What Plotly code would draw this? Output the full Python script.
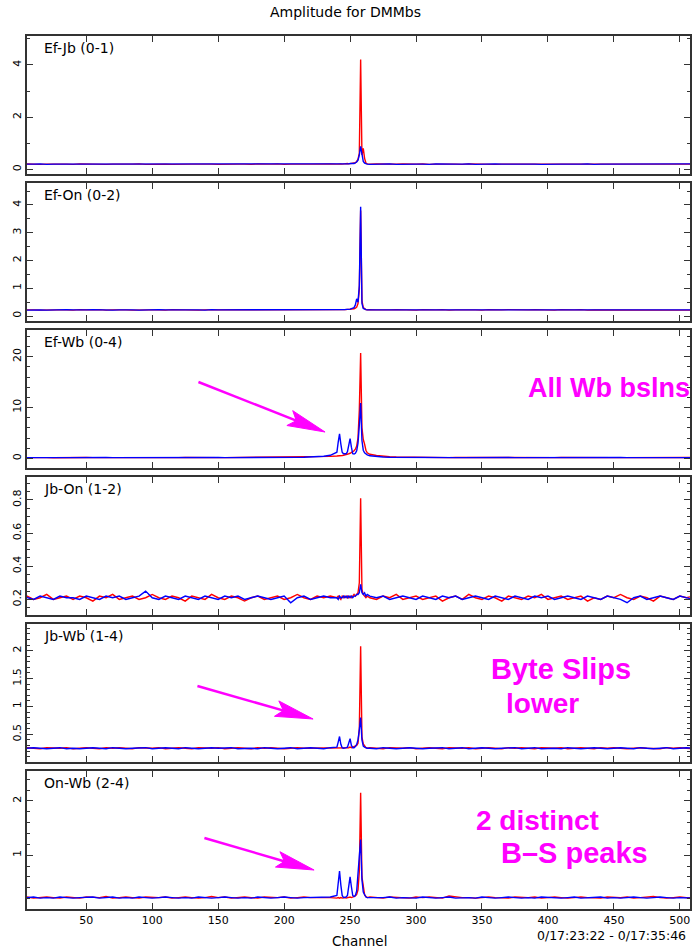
import math
import plotly.graph_objects as go

W, H = 692, 949

# ---------------- data ----------------
channels = [1] + list(range(5, 240, 5)) + list(range(240, 264)) + list(range(265, 511, 5))

baselines = ["Ef-Jb (0-1)", "Ef-On (0-2)", "Ef-Wb (0-4)", "Jb-On (1-2)", "Jb-Wb (1-4)", "On-Wb (2-4)"]
x_ticks = [50, 100, 150, 200, 250, 300, 350, 400, 450, 500]

efjb_red = [
    0.21, 0.20, 0.21, 0.19, 0.20, 0.21, 0.20, 0.20,
    0.19, 0.21, 0.20, 0.21, 0.20, 0.19, 0.20, 0.21,
    0.20, 0.20, 0.21, 0.19, 0.20, 0.21, 0.20, 0.19,
    0.20, 0.21, 0.20, 0.20, 0.21, 0.20, 0.19, 0.20,
    0.21, 0.20, 0.20, 0.19, 0.21, 0.20, 0.20, 0.21,
    0.19, 0.20, 0.21, 0.20, 0.20, 0.21, 0.20, 0.21,
    0.20, 0.21, 0.20, 0.21, 0.20, 0.21, 0.22, 0.21,
    0.22, 0.21, 0.22, 0.23, 0.22, 0.23, 0.25, 0.30,
    0.38, 0.62, 4.21, 0.55, 0.80, 0.42, 0.24, 0.21,
    0.20, 0.21, 0.20, 0.19, 0.20, 0.21, 0.20, 0.20,
    0.21, 0.19, 0.20, 0.21, 0.20, 0.20, 0.19, 0.21,
    0.20, 0.21, 0.20, 0.19, 0.20, 0.20, 0.21, 0.20,
    0.19, 0.20, 0.21, 0.20, 0.20, 0.21, 0.19, 0.20,
    0.21, 0.20, 0.20, 0.19, 0.21, 0.20, 0.21, 0.20,
    0.20, 0.19, 0.20, 0.21, 0.20, 0.20, 0.21, 0.20,
    0.19, 0.20,
]
efjb_blue = [
    0.20, 0.19, 0.20, 0.21, 0.19, 0.20, 0.20, 0.19,
    0.21, 0.20, 0.19, 0.20, 0.20, 0.21, 0.19, 0.20,
    0.20, 0.19, 0.20, 0.21, 0.20, 0.19, 0.20, 0.20,
    0.21, 0.19, 0.20, 0.20, 0.19, 0.21, 0.20, 0.20,
    0.19, 0.20, 0.21, 0.20, 0.19, 0.20, 0.20, 0.19,
    0.21, 0.20, 0.19, 0.20, 0.21, 0.20, 0.19, 0.20,
    0.20, 0.20, 0.21, 0.20, 0.21, 0.20, 0.21, 0.20,
    0.21, 0.21, 0.22, 0.21, 0.22, 0.22, 0.24, 0.28,
    0.35, 0.55, 0.88, 0.50, 0.30, 0.24, 0.21, 0.20,
    0.19, 0.20, 0.20, 0.21, 0.19, 0.20, 0.21, 0.20,
    0.20, 0.19, 0.21, 0.20, 0.19, 0.20, 0.20, 0.21,
    0.19, 0.20, 0.20, 0.21, 0.20, 0.19, 0.20, 0.20,
    0.21, 0.20, 0.19, 0.20, 0.21, 0.20, 0.20, 0.19,
    0.20, 0.21, 0.19, 0.20, 0.20, 0.21, 0.19, 0.20,
    0.21, 0.20, 0.19, 0.20, 0.20, 0.21, 0.19, 0.20,
    0.20, 0.21,
]
efon_red = [
    0.22, 0.23, 0.22, 0.21, 0.22, 0.23, 0.22, 0.22,
    0.21, 0.23, 0.22, 0.22, 0.23, 0.21, 0.22, 0.23,
    0.22, 0.21, 0.22, 0.23, 0.22, 0.22, 0.21, 0.23,
    0.22, 0.23, 0.22, 0.21, 0.22, 0.22, 0.23, 0.22,
    0.21, 0.22, 0.23, 0.22, 0.22, 0.21, 0.23, 0.22,
    0.22, 0.23, 0.21, 0.22, 0.23, 0.22, 0.22, 0.23,
    0.22, 0.22, 0.23, 0.22, 0.23, 0.22, 0.23, 0.23,
    0.24, 0.23, 0.24, 0.25, 0.25, 0.26, 0.28, 0.32,
    0.45, 0.95, 3.80, 0.55, 0.30, 0.25, 0.23, 0.22,
    0.23, 0.22, 0.21, 0.22, 0.23, 0.22, 0.22, 0.21,
    0.23, 0.22, 0.22, 0.23, 0.21, 0.22, 0.23, 0.22,
    0.22, 0.21, 0.23, 0.22, 0.22, 0.23, 0.22, 0.21,
    0.22, 0.23, 0.22, 0.22, 0.21, 0.23, 0.22, 0.22,
    0.23, 0.21, 0.22, 0.22, 0.23, 0.22, 0.21, 0.22,
    0.23, 0.22, 0.22, 0.21, 0.23, 0.22, 0.22, 0.23,
    0.22, 0.21,
]
efon_blue = [
    0.21, 0.22, 0.23, 0.22, 0.21, 0.22, 0.22, 0.23,
    0.22, 0.21, 0.22, 0.23, 0.22, 0.22, 0.21, 0.22,
    0.23, 0.22, 0.21, 0.22, 0.22, 0.23, 0.22, 0.21,
    0.22, 0.22, 0.23, 0.22, 0.21, 0.23, 0.22, 0.22,
    0.22, 0.23, 0.21, 0.22, 0.22, 0.23, 0.22, 0.21,
    0.23, 0.22, 0.22, 0.21, 0.22, 0.23, 0.22, 0.22,
    0.22, 0.23, 0.22, 0.23, 0.22, 0.23, 0.23, 0.24,
    0.23, 0.24, 0.25, 0.26, 0.27, 0.30, 0.40, 0.62,
    0.50, 1.10, 3.93, 0.45, 0.27, 0.24, 0.23, 0.22,
    0.22, 0.21, 0.22, 0.23, 0.22, 0.22, 0.21, 0.23,
    0.22, 0.22, 0.23, 0.21, 0.22, 0.22, 0.23, 0.22,
    0.21, 0.22, 0.23, 0.22, 0.22, 0.21, 0.22, 0.23,
    0.22, 0.21, 0.22, 0.23, 0.22, 0.22, 0.23, 0.21,
    0.22, 0.22, 0.21, 0.23, 0.22, 0.22, 0.23, 0.22,
    0.21, 0.22, 0.23, 0.22, 0.21, 0.22, 0.22, 0.23,
    0.22, 0.22,
]
efwb_red = [
    0.15, 0.18, 0.14, 0.16, 0.15, 0.13, 0.17, 0.15,
    0.14, 0.16, 0.18, 0.15, 0.14, 0.16, 0.15, 0.17,
    0.13, 0.15, 0.16, 0.14, 0.17, 0.15, 0.16, 0.14,
    0.15, 0.17, 0.14, 0.16, 0.15, 0.18, 0.14, 0.15,
    0.16, 0.14, 0.15, 0.17, 0.16, 0.15, 0.18, 0.16,
    0.17, 0.18, 0.20, 0.22, 0.24, 0.28, 0.32, 0.38,
    0.45, 0.45, 0.50, 0.50, 0.55, 0.60, 0.65, 0.70,
    0.80, 0.90, 1.00, 1.10, 1.30, 1.50, 1.80, 2.40,
    4.00, 9.50, 20.7, 6.00, 3.70, 2.80, 1.60, 1.10,
    0.80, 0.55, 0.40, 0.30, 0.25, 0.22, 0.20, 0.18,
    0.17, 0.16, 0.15, 0.17, 0.14, 0.16, 0.15, 0.14,
    0.16, 0.15, 0.17, 0.14, 0.15, 0.16, 0.15, 0.14,
    0.17, 0.15, 0.16, 0.14, 0.15, 0.17, 0.15, 0.16,
    0.14, 0.15, 0.16, 0.15, 0.17, 0.14, 0.15, 0.16,
    0.15, 0.14, 0.16, 0.15, 0.17, 0.15, 0.14, 0.16,
    0.15, 0.16,
]
efwb_blue = [
    0.14, 0.16, 0.15, 0.17, 0.14, 0.16, 0.15, 0.14,
    0.17, 0.15, 0.14, 0.16, 0.15, 0.17, 0.14, 0.15,
    0.16, 0.14, 0.15, 0.17, 0.15, 0.16, 0.14, 0.15,
    0.17, 0.14, 0.16, 0.15, 0.14, 0.16, 0.17, 0.15,
    0.14, 0.16, 0.15, 0.14, 0.17, 0.16, 0.15, 0.17,
    0.16, 0.18, 0.19, 0.21, 0.24, 0.30, 0.40, 0.60,
    1.20, 3.20, 4.80, 2.80, 1.20, 0.90, 0.85, 0.90,
    1.30, 2.60, 3.90, 2.20, 0.90, 0.85, 1.00, 1.50,
    3.00, 6.50, 10.9, 3.50, 1.60, 1.10, 0.90, 0.70,
    0.50, 0.35, 0.26, 0.22, 0.20, 0.18, 0.17, 0.16,
    0.15, 0.17, 0.14, 0.15, 0.16, 0.14, 0.15, 0.17,
    0.15, 0.14, 0.16, 0.15, 0.14, 0.17, 0.15, 0.16,
    0.14, 0.15, 0.17, 0.15, 0.16, 0.14, 0.15, 0.16,
    0.17, 0.14, 0.15, 0.16, 0.14, 0.15, 0.17, 0.15,
    0.16, 0.15, 0.14, 0.17, 0.15, 0.16, 0.14, 0.15,
    0.16, 0.15,
]
jbon_red = [
    0.21, 0.22, 0.20, 0.21, 0.23, 0.20, 0.21, 0.22,
    0.20, 0.22, 0.21, 0.19, 0.22, 0.21, 0.23, 0.20,
    0.21, 0.22, 0.20, 0.21, 0.23, 0.21, 0.20, 0.22,
    0.21, 0.19, 0.22, 0.21, 0.20, 0.23, 0.21, 0.20,
    0.22, 0.21, 0.19, 0.21, 0.22, 0.20, 0.21, 0.22,
    0.20, 0.21, 0.23, 0.21, 0.20, 0.22, 0.21, 0.22,
    0.21, 0.22, 0.21, 0.20, 0.22, 0.21, 0.22, 0.21,
    0.22, 0.21, 0.22, 0.21, 0.22, 0.23, 0.22, 0.23,
    0.24, 0.30, 0.81, 0.26, 0.23, 0.22, 0.21, 0.22,
    0.21, 0.20, 0.22, 0.21, 0.23, 0.20, 0.21, 0.22,
    0.20, 0.21, 0.22, 0.19, 0.21, 0.22, 0.20, 0.23,
    0.21, 0.20, 0.22, 0.21, 0.19, 0.22, 0.21, 0.20,
    0.22, 0.21, 0.23, 0.20, 0.21, 0.22, 0.20, 0.21,
    0.22, 0.19, 0.21, 0.20, 0.22, 0.21, 0.23, 0.21,
    0.20, 0.22, 0.21, 0.19, 0.22, 0.21, 0.20, 0.22,
    0.21, 0.22,
]
jbon_blue = [
    0.22, 0.21, 0.20, 0.22, 0.21, 0.20, 0.22, 0.21,
    0.21, 0.20, 0.22, 0.21, 0.20, 0.22, 0.21, 0.22,
    0.20, 0.21, 0.22, 0.25, 0.21, 0.20, 0.22, 0.21,
    0.20, 0.22, 0.21, 0.20, 0.22, 0.21, 0.20, 0.22,
    0.21, 0.22, 0.20, 0.21, 0.22, 0.21, 0.20, 0.21,
    0.22, 0.18, 0.21, 0.22, 0.20, 0.21, 0.22, 0.21,
    0.21, 0.20, 0.22, 0.21, 0.21, 0.22, 0.21, 0.22,
    0.21, 0.22, 0.21, 0.22, 0.21, 0.22, 0.22, 0.23,
    0.23, 0.24, 0.29, 0.24, 0.23, 0.24, 0.22, 0.23,
    0.22, 0.21, 0.22, 0.20, 0.21, 0.22, 0.21, 0.20,
    0.22, 0.21, 0.20, 0.22, 0.21, 0.22, 0.20, 0.21,
    0.22, 0.21, 0.20, 0.22, 0.21, 0.20, 0.22, 0.21,
    0.20, 0.22, 0.21, 0.22, 0.20, 0.21, 0.22, 0.21,
    0.20, 0.22, 0.21, 0.20, 0.22, 0.21, 0.20, 0.18,
    0.21, 0.22, 0.20, 0.21, 0.22, 0.21, 0.20, 0.22,
    0.21, 0.20,
]
jbwb_red = [
    0.25, 0.26, 0.25, 0.24, 0.26, 0.25, 0.25, 0.26,
    0.24, 0.25, 0.26, 0.25, 0.24, 0.26, 0.25, 0.26,
    0.25, 0.24, 0.26, 0.25, 0.25, 0.26, 0.24, 0.25,
    0.26, 0.25, 0.24, 0.26, 0.25, 0.25, 0.26, 0.24,
    0.25, 0.26, 0.25, 0.24, 0.26, 0.25, 0.26, 0.25,
    0.24, 0.25, 0.26, 0.25, 0.25, 0.26, 0.25, 0.26,
    0.25, 0.26, 0.25, 0.26, 0.25, 0.26, 0.26, 0.25,
    0.26, 0.26, 0.27, 0.26, 0.27, 0.28, 0.28, 0.30,
    0.34, 0.60, 2.08, 0.45, 0.33, 0.28, 0.26, 0.25,
    0.26, 0.25, 0.24, 0.26, 0.25, 0.25, 0.26, 0.24,
    0.25, 0.26, 0.25, 0.24, 0.26, 0.25, 0.25, 0.26,
    0.24, 0.25, 0.26, 0.25, 0.24, 0.26, 0.25, 0.26,
    0.25, 0.24, 0.26, 0.25, 0.25, 0.26, 0.24, 0.25,
    0.26, 0.25, 0.24, 0.26, 0.25, 0.26, 0.25, 0.24,
    0.25, 0.26, 0.25, 0.25, 0.24, 0.26, 0.25, 0.26,
    0.25, 0.24,
]
jbwb_blue = [
    0.24, 0.25, 0.26, 0.25, 0.24, 0.25, 0.26, 0.24,
    0.25, 0.24, 0.25, 0.26, 0.25, 0.24, 0.26, 0.25,
    0.24, 0.25, 0.25, 0.26, 0.24, 0.25, 0.26, 0.25,
    0.24, 0.26, 0.25, 0.24, 0.25, 0.26, 0.25, 0.25,
    0.26, 0.24, 0.25, 0.25, 0.24, 0.26, 0.25, 0.24,
    0.25, 0.26, 0.24, 0.25, 0.26, 0.25, 0.24, 0.26,
    0.27, 0.36, 0.46, 0.32, 0.26, 0.25, 0.25, 0.26,
    0.27, 0.33, 0.42, 0.30, 0.26, 0.26, 0.28, 0.32,
    0.40, 0.58, 0.80, 0.40, 0.29, 0.27, 0.26, 0.25,
    0.25, 0.24, 0.26, 0.25, 0.24, 0.25, 0.26, 0.25,
    0.24, 0.25, 0.25, 0.26, 0.24, 0.25, 0.26, 0.24,
    0.25, 0.26, 0.25, 0.24, 0.25, 0.25, 0.26, 0.24,
    0.25, 0.26, 0.24, 0.25, 0.25, 0.24, 0.26, 0.25,
    0.24, 0.25, 0.26, 0.25, 0.24, 0.25, 0.26, 0.25,
    0.24, 0.26, 0.25, 0.24, 0.25, 0.26, 0.24, 0.25,
    0.26, 0.25,
]
onwb_red = [
    0.22, 0.23, 0.21, 0.22, 0.23, 0.22, 0.21, 0.23,
    0.22, 0.21, 0.23, 0.22, 0.22, 0.24, 0.21, 0.22,
    0.23, 0.22, 0.21, 0.23, 0.22, 0.22, 0.23, 0.21,
    0.22, 0.23, 0.22, 0.21, 0.22, 0.24, 0.22, 0.23,
    0.21, 0.22, 0.23, 0.22, 0.21, 0.23, 0.22, 0.22,
    0.23, 0.21, 0.22, 0.23, 0.22, 0.22, 0.23, 0.22,
    0.21, 0.22, 0.21, 0.22, 0.21, 0.22, 0.22, 0.21,
    0.22, 0.22, 0.23, 0.22, 0.23, 0.24, 0.25, 0.28,
    0.36, 0.70, 2.15, 0.60, 0.38, 0.27, 0.24, 0.22,
    0.23, 0.22, 0.21, 0.23, 0.22, 0.22, 0.21, 0.23,
    0.22, 0.23, 0.22, 0.21, 0.25, 0.23, 0.22, 0.22,
    0.21, 0.22, 0.23, 0.22, 0.22, 0.21, 0.23, 0.22,
    0.22, 0.23, 0.21, 0.22, 0.23, 0.22, 0.21, 0.22,
    0.23, 0.22, 0.22, 0.21, 0.23, 0.22, 0.22, 0.23,
    0.21, 0.22, 0.23, 0.24, 0.22, 0.21, 0.22, 0.23,
    0.22, 0.22,
]
onwb_blue = [
    0.21, 0.22, 0.23, 0.21, 0.22, 0.21, 0.23, 0.22,
    0.21, 0.22, 0.22, 0.23, 0.21, 0.22, 0.23, 0.21,
    0.22, 0.21, 0.23, 0.22, 0.21, 0.22, 0.23, 0.22,
    0.21, 0.22, 0.21, 0.23, 0.22, 0.21, 0.22, 0.23,
    0.22, 0.21, 0.22, 0.21, 0.23, 0.22, 0.21, 0.22,
    0.23, 0.22, 0.21, 0.22, 0.22, 0.23, 0.22, 0.23,
    0.26, 0.50, 0.71, 0.45, 0.26, 0.22, 0.22, 0.23,
    0.26, 0.42, 0.60, 0.42, 0.26, 0.24, 0.26, 0.34,
    0.60, 0.98, 1.29, 0.55, 0.32, 0.26, 0.23, 0.22,
    0.22, 0.21, 0.22, 0.23, 0.21, 0.22, 0.22, 0.21,
    0.23, 0.22, 0.21, 0.22, 0.23, 0.21, 0.22, 0.22,
    0.21, 0.23, 0.22, 0.21, 0.22, 0.23, 0.22, 0.21,
    0.22, 0.21, 0.23, 0.22, 0.22, 0.21, 0.22, 0.23,
    0.21, 0.22, 0.22, 0.23, 0.21, 0.22, 0.21, 0.22,
    0.23, 0.22, 0.21, 0.22, 0.23, 0.22, 0.21, 0.22,
    0.22, 0.21,
]

red_series = [efjb_red, efon_red, efwb_red, jbon_red, jbwb_red, onwb_red]
blue_series = [efjb_blue, efon_blue, efwb_blue, jbon_blue, jbwb_blue, onwb_blue]

# ---------------- layout / styling ----------------
y_ranges = [[-0.18, 5.11], [-0.18, 4.79], [-1.9, 25.25], [0.106, 0.938], [0.003, 2.479], [0.01, 2.55]]
y_dticks = [2, 1, 10, 0.2, 0.5, 1]
y_minor = [1, 0.5, 2, 0.05, 0.1, 0.2]

PANEL_TOP0, PANEL_PITCH, PANEL_H = 36, 147, 138
X_LEFT = 27
FRAME = "#333333"
MAGENTA = "#ff00ff"
FONT = "DejaVu Sans"


def px(x):
    return x / W


def py(y):
    return 1 - y / H


fig = go.Figure()
layout = {}
annotations = []

for i in range(6):
    sfx = "" if i == 0 else str(i + 1)
    xa, ya = "x" + sfx, "y" + sfx
    fig.add_trace(go.Scatter(x=channels, y=red_series[i], xaxis=xa, yaxis=ya, mode="lines",
                             line=dict(color="#ff0000", width=1.4), hoverinfo="skip"))
    fig.add_trace(go.Scatter(x=channels, y=blue_series[i], xaxis=xa, yaxis=ya, mode="lines",
                             line=dict(color="#0000ff", width=1.4), hoverinfo="skip"))
    top = PANEL_TOP0 + PANEL_PITCH * i
    bot = top + PANEL_H
    layout["xaxis" + sfx] = dict(
        domain=[px(X_LEFT), 1], anchor=ya, range=[5, 507.7],
        showline=True, linecolor=FRAME, linewidth=2, mirror="ticks",
        ticks="inside", ticklen=6, tickwidth=1, tickcolor=FRAME,
        tickmode="array", tickvals=x_ticks, ticktext=[str(v) for v in x_ticks],
        showticklabels=(i == 5), showgrid=False, zeroline=False,
        tickfont=dict(family=FONT, size=11, color="#000"),
    )
    layout["yaxis" + sfx] = dict(
        domain=[py(bot), py(top)], anchor=xa, range=y_ranges[i],
        showline=True, linecolor=FRAME, linewidth=2, mirror="ticks",
        ticks="inside", ticklen=6, tickwidth=1, tickcolor=FRAME,
        tick0=0, dtick=y_dticks[i], tickangle=-90,
        minor=dict(dtick=y_minor[i], tick0=0, ticks="inside", ticklen=3, tickcolor=FRAME, tickwidth=1),
        showgrid=False, zeroline=False,
        tickfont=dict(family=FONT, size=11, color="#000"),
    )
    annotations.append(dict(text=baselines[i], x=px(42), y=py(top + 12), xref="paper", yref="paper",
                            xanchor="left", yanchor="middle", showarrow=False,
                            font=dict(family=FONT, size=14, color="#000")))

annotations += [
    dict(text="Amplitude for DMMbs", x=px(346), y=py(12), xref="paper", yref="paper",
         xanchor="center", yanchor="middle", showarrow=False, font=dict(family=FONT, size=14, color="#000")),
    dict(text="Channel", x=px(361), y=py(941), xref="paper", yref="paper",
         xanchor="center", yanchor="middle", showarrow=False, font=dict(family=FONT, size=13.5, color="#000")),
    dict(text="0/17:23:22 - 0/17:35:46", x=px(690), y=py(935), xref="paper", yref="paper",
         xanchor="right", yanchor="middle", showarrow=False, font=dict(family=FONT, size=12.5, color="#000")),
]

for txt, x, y, size in [("All Wb bslns", 528, 388, 27), ("Byte Slips", 490, 669, 29), ("lower", 505, 703, 28),
                        ("2 distinct", 475, 820, 28), ("B\u2013S peaks", 500, 853, 29)]:
    annotations.append(dict(text="<b>" + txt + "</b>", x=px(x), y=py(y), xref="paper", yref="paper",
                            xanchor="left", yanchor="middle", showarrow=False,
                            font=dict(family="Liberation Sans", size=size, color=MAGENTA)))

shapes = []


def add_arrow(tail, tip):
    dx, dy = tip[0] - tail[0], tip[1] - tail[1]
    L = math.hypot(dx, dy)
    ux, uy = dx / L, dy / L
    nx, ny = -uy, ux
    neck = (tip[0] - 31 * ux, tip[1] - 31 * uy)
    b1 = (tip[0] - 38 * ux + 8 * nx, tip[1] - 38 * uy + 8 * ny)
    b2 = (tip[0] - 38 * ux - 8 * nx, tip[1] - 38 * uy - 8 * ny)
    shapes.append(dict(type="line", xref="paper", yref="paper",
                       x0=px(tail[0]), y0=py(tail[1]), x1=px(neck[0] + 4 * ux), y1=py(neck[1] + 4 * uy),
                       line=dict(color=MAGENTA, width=2.5)))
    path = "M{},{} L{},{} L{},{} L{},{} Z".format(
        px(tip[0]), py(tip[1]), px(b1[0]), py(b1[1]), px(neck[0]), py(neck[1]), px(b2[0]), py(b2[1]))
    shapes.append(dict(type="path", xref="paper", yref="paper", path=path,
                       fillcolor=MAGENTA, line=dict(color=MAGENTA, width=1)))


add_arrow((199, 382), (326, 432))
add_arrow((198, 686), (314, 719))
add_arrow((205, 838), (315, 870))

fig.update_layout(
    width=W, height=H, margin=dict(l=0, r=0, t=0, b=0),
    paper_bgcolor="white", plot_bgcolor="white", showlegend=False,
    annotations=annotations, shapes=shapes, **layout,
)

fig.write_html("out.html")
